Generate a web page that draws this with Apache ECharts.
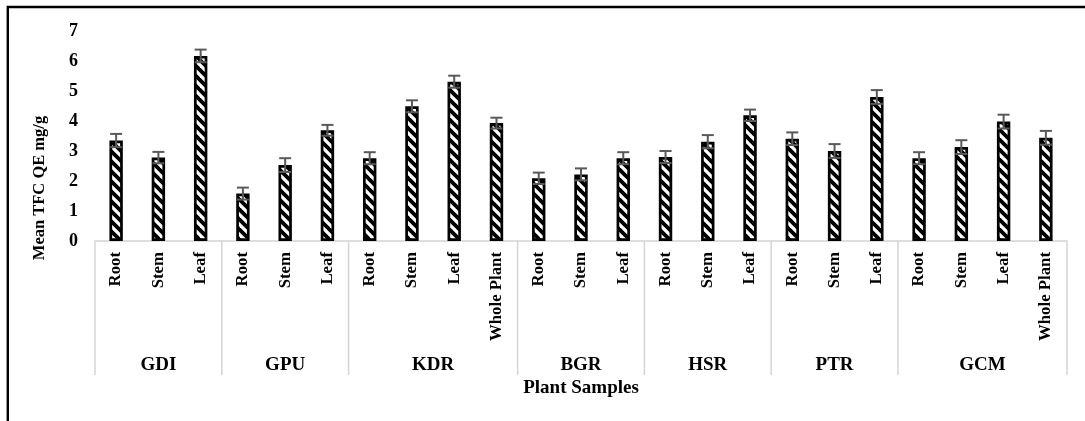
<!DOCTYPE html>
<html>
<head>
<meta charset="utf-8">
<script src="https://cdn.jsdelivr.net/npm/echarts@6/dist/echarts.min.js"></script>
<style>
  html, body { margin: 0; padding: 0; background: #fff; }
  #chart { width: 1085px; height: 421px; }
</style>
</head>
<body>
<div id="chart"></div>
<script>
// Plant samples and the parts measured for each
var groupNames = ['GDI', 'GPU', 'KDR', 'BGR', 'HSR', 'PTR', 'GCM'];
var groupParts = [
  ['Root', 'Stem', 'Leaf'],
  ['Root', 'Stem', 'Leaf'],
  ['Root', 'Stem', 'Leaf', 'Whole Plant'],
  ['Root', 'Stem', 'Leaf'],
  ['Root', 'Stem', 'Leaf'],
  ['Root', 'Stem', 'Leaf'],
  ['Root', 'Stem', 'Leaf', 'Whole Plant']
];
// Mean TFC (QE mg/g) per part, in the same order
var meanTFC = [
  3.35, 2.78, 6.17,
  1.58, 2.53, 3.69,
  2.76, 4.49, 5.31, 3.93,
  2.09, 2.22, 2.76,
  2.80, 3.31, 4.19,
  3.41, 3.00, 4.80,
  2.76, 3.13, 3.98, 3.44
];
// Standard error for each mean
var errTFC = [
  0.22, 0.19, 0.21,
  0.20, 0.23, 0.18,
  0.20, 0.20, 0.20, 0.18,
  0.19, 0.20, 0.20,
  0.20, 0.22, 0.19,
  0.21, 0.23, 0.23,
  0.20, 0.23, 0.23, 0.23
];
var yTicks = [0, 1, 2, 3, 4, 5, 6, 7];

var categories = [];
groupParts.forEach(function (parts) { parts.forEach(function (p) { categories.push(p); }); });

var FONT = '"Liberation Serif", "Times New Roman", serif';

// Diagonal hatch fill for the bars
function hatch() {
  var c = document.createElement('canvas');
  var s = 10;
  c.width = s; c.height = s;
  var ctx = c.getContext('2d');
  ctx.fillStyle = '#fff';
  ctx.fillRect(0, 0, s, s);
  ctx.strokeStyle = '#000';
  ctx.lineWidth = 3.8;
  [-s, 0, s].forEach(function (o) {
    ctx.beginPath();
    ctx.moveTo(o - 2, -2);
    ctx.lineTo(o + s + 2, s + 2);
    ctx.stroke();
  });
  return c;
}

var chart = echarts.init(document.getElementById('chart'), null, { renderer: 'canvas' });

var option = {
  animation: false,
  backgroundColor: '#fff',
  grid: { left: 95, right: 18, top: 31, bottom: 180, containLabel: false },
  xAxis: {
    type: 'category',
    data: categories,
    axisLine: { lineStyle: { color: '#d4d4d4', width: 1.5 } },
    axisTick: { show: false },
    axisLabel: {
      rotate: 90,
      interval: 0,
      margin: 11,
      color: '#000',
      fontFamily: FONT,
      fontWeight: 'bold',
      fontSize: 16.8
    }
  },
  yAxis: {
    type: 'value',
    min: 0,
    max: 7,
    interval: 1,
    axisLine: { show: false },
    axisTick: { show: false },
    splitLine: { show: false },
    axisLabel: {
      margin: 17,
      color: '#000',
      fontFamily: FONT,
      fontWeight: 'bold',
      fontSize: 18,
      formatter: function (v) { return yTicks.indexOf(v) >= 0 ? String(v) : ''; }
    }
  },
  series: [
    {
      type: 'bar',
      data: meanTFC,
      barWidth: 13.4,
      itemStyle: {
        color: { image: hatch(), repeat: 'repeat' },
        borderColor: '#000',
        borderWidth: 2.7
      },
      z: 2
    },
    {
      type: 'custom',
      z: 5,
      data: meanTFC.map(function (v, i) { return [i, v, errTFC[i]]; }),
      renderItem: function (params, api) {
        var i = api.value(0), v = api.value(1), e = api.value(2);
        var top = api.coord([i, v + e]);
        var bot = api.coord([i, v - e]);
        var hw = 6;
        var style = { stroke: '#595959', lineWidth: 2 };
        return {
          type: 'group',
          children: [
            { type: 'line', shape: { x1: top[0], y1: top[1], x2: bot[0], y2: bot[1] }, style: style },
            { type: 'line', shape: { x1: top[0] - hw, y1: top[1], x2: top[0] + hw, y2: top[1] }, style: style },
            { type: 'line', shape: { x1: bot[0] - hw, y1: bot[1], x2: bot[0] + hw, y2: bot[1] }, style: style }
          ]
        };
      }
    }
  ]
};

chart.setOption(option);

// Group boxes, group names, axis titles and the outer frame
function drawExtras() {
  var c0 = chart.convertToPixel({ xAxisIndex: 0 }, 0);
  var c1 = chart.convertToPixel({ xAxisIndex: 0 }, 1);
  var bw = c1 - c0;
  var axisY = chart.convertToPixel({ yAxisIndex: 0 }, 0);
  var g = [];
  var start = 0;
  var edges = [c0 - bw / 2];
  groupParts.forEach(function (parts, gi) {
    var left = c0 - bw / 2 + start * bw;
    var right = left + parts.length * bw;
    edges.push(right);
    g.push({
      type: 'text',
      style: {
        text: groupNames[gi],
        x: (left + right) / 2,
        y: axisY + 124,
        fill: '#000',
        font: 'bold 19px ' + FONT,
        textAlign: 'center',
        textVerticalAlign: 'middle'
      }
    });
    start += parts.length;
  });
  edges.forEach(function (x) {
    g.push({
      type: 'line',
      shape: { x1: x, y1: axisY, x2: x, y2: axisY + 134 },
      style: { stroke: '#d4d4d4', lineWidth: 1.5 }
    });
  });
  g.push({
    type: 'text',
    style: {
      text: 'Plant Samples',
      x: (edges[0] + edges[edges.length - 1]) / 2,
      y: axisY + 147,
      fill: '#000',
      font: 'bold 19px ' + FONT,
      textAlign: 'center',
      textVerticalAlign: 'middle'
    }
  });
  g.push({
    type: 'text',
    x: 40,
    y: 188,
    rotation: Math.PI / 2,
    style: {
      text: 'Mean TFC QE mg/g',
      x: 0,
      y: 0,
      fill: '#000',
      font: 'bold 16.5px ' + FONT,
      textAlign: 'center',
      textVerticalAlign: 'middle'
    }
  });
  g.push({
    type: 'polyline',
    shape: { points: [[7.8, 421], [7.8, 7], [1085, 7]] },
    style: { stroke: '#000', lineWidth: 2.4, fill: null }
  });
  chart.setOption({ graphic: g });
}
drawExtras();
</script>
</body>
</html>
